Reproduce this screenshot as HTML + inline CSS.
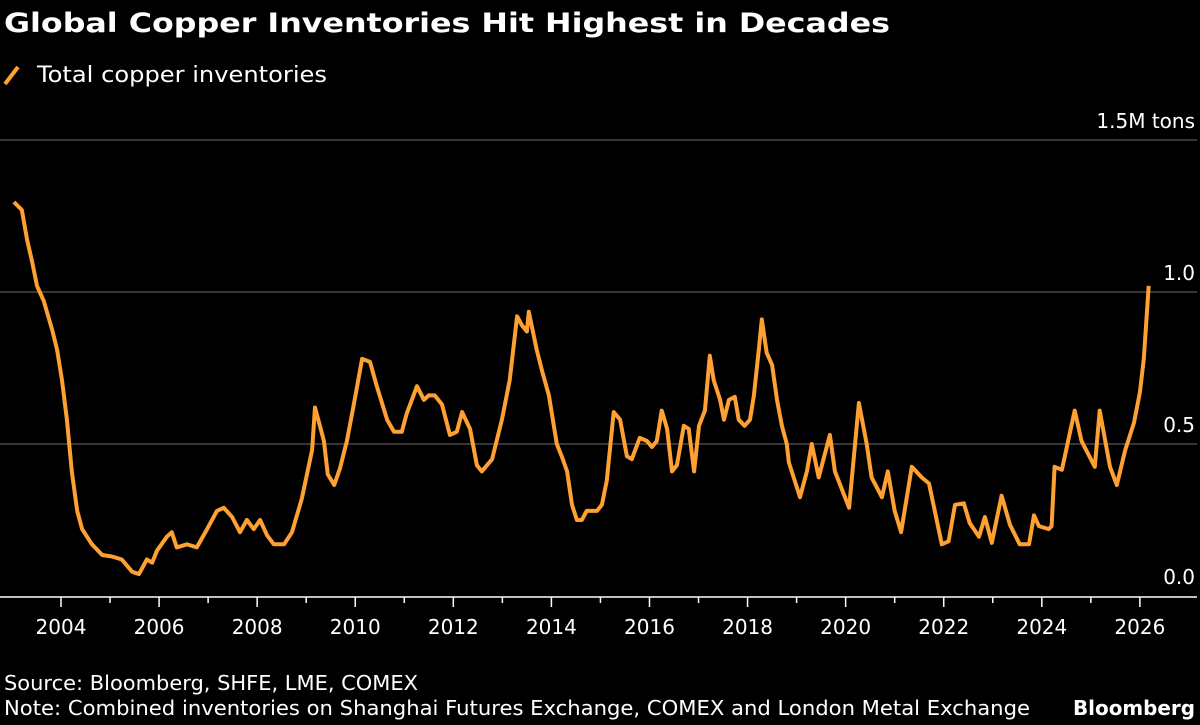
<!DOCTYPE html>
<html><head><meta charset="utf-8"><style>
html,body{margin:0;padding:0;background:#000;}
svg{display:block;font-family:"DejaVu Sans","Liberation Sans",sans-serif;}
</style></head><body>
<svg id="chart" width="1200" height="725" viewBox="0 0 1200 725">
<rect width="1200" height="725" fill="#000"/>
<text x="4" y="32" font-size="27" font-weight="bold" fill="#fff" textLength="886" lengthAdjust="spacingAndGlyphs">Global Copper Inventories Hit Highest in Decades</text>
<g>
<line x1="5" y1="84" x2="18" y2="67" stroke="#ffa033" stroke-width="4"/>
<text x="37" y="82" font-size="22" fill="#fff" textLength="290" lengthAdjust="spacingAndGlyphs">Total copper inventories</text>
</g>
<g id="grid"></g>
<g id="xaxis"></g>
<path id="line" fill="none" stroke="#ffa033" stroke-width="4" stroke-linejoin="round"/>
<text x="4" y="690" font-size="20" fill="#fff" textLength="414" lengthAdjust="spacingAndGlyphs">Source: Bloomberg, SHFE, LME, COMEX</text>
<text x="4" y="715" font-size="20" fill="#fff" textLength="1026" lengthAdjust="spacingAndGlyphs">Note: Combined inventories on Shanghai Futures Exchange, COMEX and London Metal Exchange</text>
<text x="1195" y="715" font-size="20" font-weight="bold" fill="#fff" text-anchor="end" textLength="122" lengthAdjust="spacingAndGlyphs">Bloomberg</text>
</svg>
<script>
const years = [2003.04,2003.20,2003.31,2003.41,2003.51,2003.65,2003.82,2003.92,2004.02,2004.12,2004.22,2004.33,2004.43,2004.63,2004.84,2005.04,2005.24,2005.45,2005.59,2005.75,2005.86,2005.96,2006.16,2006.26,2006.36,2006.57,2006.77,2006.98,2007.18,2007.32,2007.49,2007.65,2007.79,2007.93,2008.06,2008.20,2008.34,2008.55,2008.71,2008.91,2009.12,2009.18,2009.28,2009.36,2009.44,2009.57,2009.69,2009.83,2009.97,2010.14,2010.30,2010.44,2010.65,2010.79,2010.95,2011.05,2011.26,2011.40,2011.50,2011.62,2011.77,2011.93,2012.07,2012.18,2012.34,2012.48,2012.58,2012.79,2012.99,2013.15,2013.30,2013.40,2013.50,2013.54,2013.70,2013.81,2013.95,2014.11,2014.21,2014.32,2014.42,2014.52,2014.62,2014.72,2014.93,2015.03,2015.13,2015.27,2015.40,2015.54,2015.64,2015.80,2015.95,2016.05,2016.15,2016.25,2016.36,2016.46,2016.56,2016.70,2016.80,2016.91,2017.01,2017.13,2017.23,2017.31,2017.44,2017.52,2017.62,2017.74,2017.82,2017.94,2018.05,2018.13,2018.23,2018.29,2018.39,2018.50,2018.60,2018.70,2018.80,2018.84,2019.07,2019.21,2019.31,2019.45,2019.68,2019.78,2020.07,2020.27,2020.43,2020.53,2020.74,2020.86,2021.00,2021.13,2021.35,2021.55,2021.70,2021.96,2022.10,2022.23,2022.41,2022.53,2022.72,2022.84,2022.98,2023.18,2023.35,2023.55,2023.74,2023.84,2023.94,2024.14,2024.20,2024.26,2024.41,2024.67,2024.81,2025.08,2025.18,2025.39,2025.53,2025.70,2025.88,2026.00,2026.08,2026.18];
const inventories = [1.296,1.27,1.17,1.10,1.02,0.97,0.875,0.81,0.71,0.58,0.41,0.28,0.22,0.17,0.135,0.13,0.12,0.08,0.072,0.12,0.11,0.15,0.195,0.21,0.16,0.17,0.16,0.22,0.28,0.29,0.26,0.21,0.25,0.22,0.25,0.20,0.17,0.17,0.21,0.32,0.48,0.62,0.56,0.51,0.40,0.365,0.42,0.51,0.63,0.78,0.77,0.69,0.58,0.54,0.54,0.60,0.69,0.645,0.66,0.66,0.63,0.53,0.54,0.605,0.55,0.43,0.41,0.45,0.58,0.71,0.92,0.89,0.87,0.935,0.81,0.74,0.66,0.50,0.46,0.41,0.30,0.25,0.25,0.28,0.28,0.30,0.38,0.605,0.58,0.46,0.45,0.52,0.51,0.49,0.51,0.61,0.55,0.41,0.43,0.56,0.55,0.41,0.56,0.61,0.79,0.71,0.645,0.58,0.645,0.655,0.58,0.56,0.58,0.66,0.81,0.91,0.80,0.76,0.645,0.56,0.50,0.44,0.325,0.41,0.50,0.39,0.53,0.41,0.29,0.635,0.50,0.39,0.325,0.41,0.28,0.21,0.425,0.39,0.37,0.17,0.18,0.30,0.305,0.24,0.195,0.26,0.175,0.33,0.235,0.17,0.17,0.265,0.23,0.22,0.23,0.425,0.415,0.61,0.51,0.425,0.61,0.425,0.365,0.48,0.57,0.67,0.78,1.02];
const yTicks = [0, 0.5, 1.0, 1.5];
const yTickLabels = ["0.0", "0.5", "1.0", "1.5M tons"];
const xTicks = [2004,2006,2008,2010,2012,2014,2016,2018,2020,2022,2024,2026];
const xMinorTicks = [2005,2007,2009,2011,2013,2015,2017,2019,2021,2023,2025];

const NS = "http://www.w3.org/2000/svg";
const xS = y => 61 + (y - 2004) * 49.04;
const yS = v => 596 - v * 304;
function mk(tag, attrs, parent){ const e=document.createElementNS(NS,tag); for(const k in attrs) e.setAttribute(k,attrs[k]); parent.appendChild(e); return e; }

const grid = document.getElementById('grid');
yTicks.forEach((t,i)=>{
  if(t>0){
    const gl = mk('line',{x1:0,x2:1197,y1:yS(t),y2:yS(t),stroke:'#6e6e6e','stroke-width':1},grid);
    
    
  }
  const tl = mk('text',{x:1195,y:yS(t)-12,'font-size':20,fill:'#fff','text-anchor':'end'},grid);
  tl.textContent = yTickLabels[i];
  
  
});

const xa = document.getElementById('xaxis');
const base = mk('line',{x1:0,x2:1197,y1:597,y2:597,stroke:'#fff','stroke-width':1.5},xa);


xTicks.forEach(t=>{
  const tk = mk('line',{x1:xS(t),x2:xS(t),y1:597,y2:607,stroke:'#fff','stroke-width':1.5},xa);
  
  
  const lb = mk('text',{x:xS(t),y:634,'font-size':20,fill:'#fff','text-anchor':'middle'},xa);
  lb.textContent = t;
  
  
});
xMinorTicks.forEach(t=>{
  const tk = mk('line',{x1:xS(t),x2:xS(t),y1:597,y2:603,stroke:'#fff','stroke-width':1.5},xa);
  
  
});

let d = '';
years.forEach((y,i)=>{ d += (i?'L':'M') + xS(y).toFixed(1) + ',' + yS(inventories[i]).toFixed(1); });
document.getElementById('line').setAttribute('d', d);
</script>
</body></html>
